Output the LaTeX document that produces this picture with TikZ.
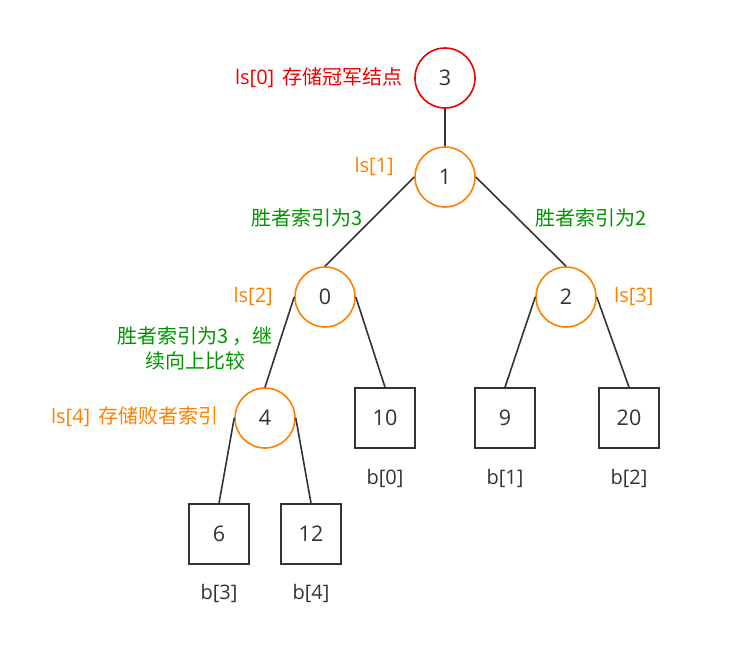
\documentclass[tikz,border=0pt]{standalone}
\usepackage{fontspec}
\setmainfont{Open Sans}
\newfontfamily\cjk{Noto Sans CJK SC}
\usepackage{tikz}
\usetikzlibrary{positioning}
\definecolor{tred}{RGB}{240,0,0}
\definecolor{torange}{RGB}{255,128,0}
\definecolor{tgreen}{RGB}{0,150,0}
\definecolor{tgray}{RGB}{51,51,51}

\begin{document}
\begin{tikzpicture}[
		x=1pt, y=-1pt,
		font=\fontsize{20}{25}\selectfont,
		champ/.style={circle,draw=tred,line width=1.6pt,minimum size=60pt,inner sep=0pt,text=tgray,font=\fontsize{21.5}{25}\selectfont},
		inner/.style={circle,draw=torange,line width=1.6pt,minimum size=60pt,inner sep=0pt,text=tgray,font=\fontsize{21.5}{25}\selectfont},
		leaf/.style={rectangle,draw=tgray,line width=1.6pt,minimum size=60pt,inner sep=0pt,text=tgray,font=\fontsize{21.5}{25}\selectfont},
		tree/.style={draw=tgray,line width=1.6pt},
		redtag/.style={text=tred,inner sep=0pt},
		tag/.style={text=torange,inner sep=0pt},
		note/.style={text=tgreen,inner sep=0pt,font=\fontsize{20}{25}\selectfont\cjk},
		btag/.style={text=tgray,inner sep=0pt}
		]
		\useasboundingbox (0,0) rectangle (746,645);
		
		% loser tree nodes
		\node[champ] (ls0) at (445,78) {3};
		\node[inner] (ls1) at (445,177) {1};
		\node[inner] (ls2) at (325,297) {0};
		\node[inner] (ls3) at (566,297) {2};
		\node[inner] (ls4) at (265,418) {4};
		
		% leaves
		\node[leaf] (b0) at (385,418) {10};
		\node[leaf] (b1) at (505,418) {9};
		\node[leaf] (b2) at (629,418) {20};
		\node[leaf] (b3) at (219,534) {6};
		\node[leaf] (b4) at (311,534) {12};
		
		\draw[tree] (ls0) -- (ls1);
		\draw[tree] (ls1.west) -- (ls2.north);
		\draw[tree] (ls1.east) -- (ls3.north);
		\draw[tree] (ls2.west) -- (ls4.north);
		\draw[tree] (ls2.east) -- (b0.north);
		\draw[tree] (ls3.west) -- (b1.north);
		\draw[tree] (ls3.east) -- (b2.north);
		\draw[tree] (ls4.west) -- (b3.north);
		\draw[tree] (ls4.east) -- (b4.north);
		
		% labels
		\node[redtag, anchor=east] (t0) at (403,78) {ls[0]\, {\cjk 存储冠军结点}};
		\node[tag, anchor=east] (t1) at (394,166) {ls[1]};
		\node[tag, anchor=east] (t2) at (273,296) {ls[2]};
		\node[tag, anchor=west] (t3) at (614,296) {ls[3]};
		\node[tag, anchor=east] (t4) at (219,417) {ls[4]\, {\cjk 存储败者索引}};
		
		\node[note] (w1) at (307,218) {胜者索引为3};
		\node[note] (w2) at (591,218) {胜者索引为2};
		\node[note, align=center] (w3) at (195,348) {胜者索引为3\,，继\\续向上比较};
		
		\node[btag] (l0) at (385,478) {b[0]};
		\node[btag] (l1) at (505,478) {b[1]};
		\node[btag] (l2) at (629,478) {b[2]};
		\node[btag] (l3) at (219,593) {b[3]};
		\node[btag] (l4) at (311,593) {b[4]};
\end{tikzpicture}
\end{document}
